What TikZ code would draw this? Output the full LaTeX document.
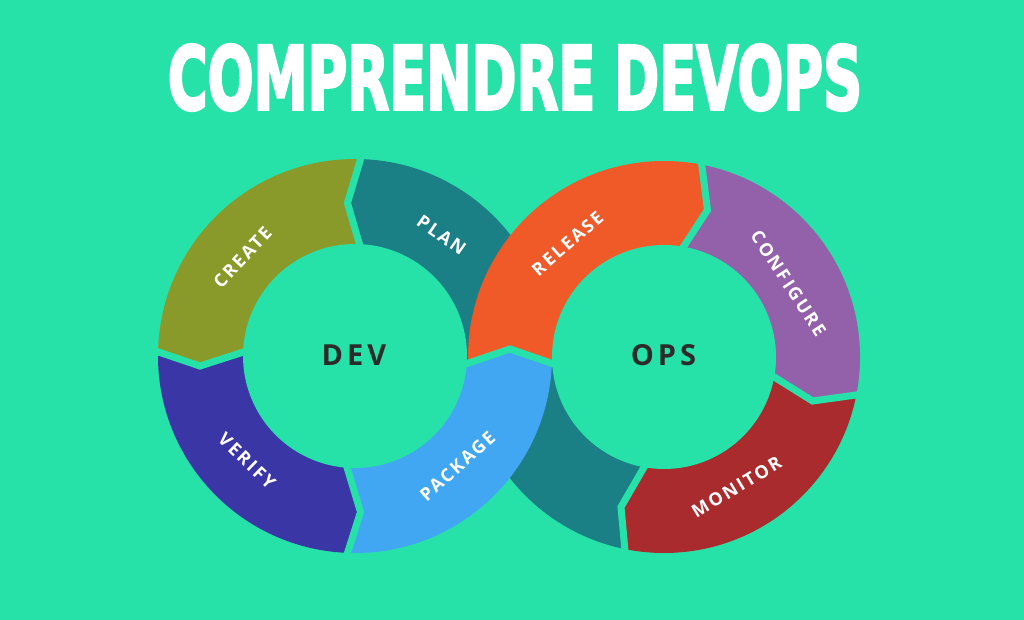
\documentclass[tikz,border=0pt]{standalone}
\usepackage{fontspec}
\usetikzlibrary{calc}
\setmainfont{Open Sans}
\newfontfamily\labfont{Open Sans}[LetterSpace=12]
\newfontfamily\hubfont{Open Sans}[LetterSpace=14]
\newfontfamily\titlefont{DejaVu Sans Bold}[FakeBold=3.5]
\definecolor{bg}{HTML}{26E2A9}
\definecolor{cCreate}{HTML}{8A9A2A}
\definecolor{cPlan}{HTML}{1B7F86}
\definecolor{cVerify}{HTML}{3B36A6}
\definecolor{cPackage}{HTML}{42A7F2}
\definecolor{cRelease}{HTML}{F05A28}
\definecolor{cConfig}{HTML}{9261A9}
\definecolor{cMonitor}{HTML}{AA2B2E}
\definecolor{cCenter}{HTML}{2B2B2B}
\tikzset{
  gapline/.style={draw=bg, line width=7pt, line join=miter, miter limit=20},
  lab/.style={text=white, inner sep=0pt, font=\labfont\bfseries\fontsize{18}{18}\selectfont},
  hub/.style={text=cCenter, inner sep=0pt, font=\hubfont\bfseries\fontsize{29}{29}\selectfont},
  titlestyle/.style={text=white, inner sep=0pt},
}
\begin{document}
\begin{tikzpicture}[x=1pt, y=-1pt]
\useasboundingbox (0,0) rectangle (1024,620);
\fill[bg] (0,0) rectangle (1024,620);
% centres
\coordinate (C1) at (355,356);
\coordinate (C2) at (664,357);
% boundaries (gap centre lines): inner, tip, outer
\coordinate (B1i) at (360,246);   \coordinate (B1t) at (347.5,203); \coordinate (B1o) at (360,161);
\coordinate (B2i) at (242,352.5); \coordinate (B2t) at (200,366);   \coordinate (B2o) at (157,351.5);
\coordinate (B3i) at (347.5,469); \coordinate (B3t) at (360.5,512); \coordinate (B3o) at (347.5,553);
\coordinate (B4a) at (467,363.5); \coordinate (B4t) at (510,349);   \coordinate (B4b) at (552,363.5);
\coordinate (B5i) at (684,246);   \coordinate (B5t) at (707.5,210); \coordinate (B5o) at (701.5,163);
\coordinate (B6i) at (775,377.5); \coordinate (B6t) at (812.5,401); \coordinate (B6o) at (856,395);
\coordinate (B7i) at (643,469);   \coordinate (B7t) at (621,507);   \coordinate (B7o) at (625,551);
\foreach \b in {B1,B2,B3,B5,B6,B7}{
  \coordinate (\b ie) at ($(\b t)!1.4!(\b i)$);
  \coordinate (\b oe) at ($(\b t)!1.4!(\b o)$);
}
\coordinate (B4ae) at ($(B4t)!1.3!(B4a)$);
\coordinate (B4be) at ($(B4t)!1.3!(B4b)$);
% ---- under layer: PLAN (ring 1) and teal (ring 2)
\begin{scope}
  \clip (C1) circle (197);
  \fill[cPlan] (C1) -- (B4ae) -- (B4t) -- (B4be) -- ($(C1)+(2:300)$) -- ($(C1)+(-42:300)$) -- ($(C1)+(-87:300)$) -- (B1oe) -- (B1t) -- (B1ie) -- cycle;
\end{scope}
\begin{scope}
  \clip (C2) circle (196);
  \fill[cPlan] (C2) -- (B7ie) -- (B7t) -- (B7oe) -- ($(C2)+(101:300)$) -- ($(C2)+(140:300)$) -- ($(C2)+(178:300)$) -- (B4ae) -- (B4t) -- (B4be) -- cycle;
\end{scope}
% ---- ring 1
\begin{scope}
  \clip (C1) circle (197);
  \fill[cCreate] (C1) -- (B1ie) -- (B1t) -- (B1oe) -- ($(C1)+(-87:300)$) -- ($(C1)+(-132.5:300)$) -- ($(C1)+(-178:300)$) -- (B2oe) -- (B2t) -- (B2ie) -- cycle;
  \fill[cVerify] (C1) -- (B2ie) -- (B2t) -- (B2oe) -- ($(C1)+(-178:300)$) -- ($(C1)+(-222.75:300)$) -- ($(C1)+(-267.5:300)$) -- (B3oe) -- (B3t) -- (B3ie) -- cycle;
  \fill[cPackage] (C1) -- (B3ie) -- (B3t) -- (B3oe) -- ($(C1)+(92.5:300)$) -- ($(C1)+(47.25:300)$) -- ($(C1)+(2:300)$) -- (B4be) -- (B4t) -- (B4ae) -- cycle;
\end{scope}
% ---- ring 2
\begin{scope}
  \clip (C2) circle (196);
  \fill[cRelease] (C2) -- (B4be) -- (B4t) -- (B4ae) -- ($(C2)+(178:300)$) -- ($(C2)+(-130.5:300)$) -- ($(C2)+(-79:300)$) -- (B5oe) -- (B5t) -- (B5ie) -- cycle;
  \fill[cConfig] (C2) -- (B5ie) -- (B5t) -- (B5oe) -- ($(C2)+(-79:300)$) -- ($(C2)+(-34:300)$) -- ($(C2)+(11:300)$) -- (B6oe) -- (B6t) -- (B6ie) -- cycle;
  \fill[cMonitor] (C2) -- (B6ie) -- (B6t) -- (B6oe) -- ($(C2)+(11:300)$) -- ($(C2)+(56:300)$) -- ($(C2)+(101:300)$) -- (B7oe) -- (B7t) -- (B7ie) -- cycle;
\end{scope}
% ---- inner holes
\fill[bg] (C1) circle (112);
\fill[bg] (C2) circle (112);
% ---- gaps
\foreach \b in {B1,B2,B3,B5,B6,B7}{
  \draw[gapline] (\b ie) -- (\b t) -- (\b oe);
}
\draw[gapline] (B4ae) -- (B4t) -- (B4be);
% ---- texts
\node[titlestyle] (title) at (515,77.5) {\resizebox{694pt}{65pt}{\titlefont COMPRENDRE DEVOPS}};
\node[hub] (dev) at (354,355) {DEV};
\node[hub] (ops) at (663.5,355) {OPS};
\node[lab, rotate=47] (create) at (242.5,257.5) {CREATE};
\node[lab, rotate=-35] (plan) at (441.5,235) {PLAN};
\node[lab, rotate=-44] (verify) at (247,461) {VERIFY};
\node[lab, rotate=42] (package) at (457.5,466) {PACKAGE};
\node[lab, rotate=41] (release) at (567.5,243.5) {RELEASE};
\node[lab, rotate=-57] (configure) at (788.5,283.5) {CONFIGURE};
\node[lab, rotate=31] (monitor) at (736.5,487) {MONITOR};
\end{tikzpicture}
\end{document}
